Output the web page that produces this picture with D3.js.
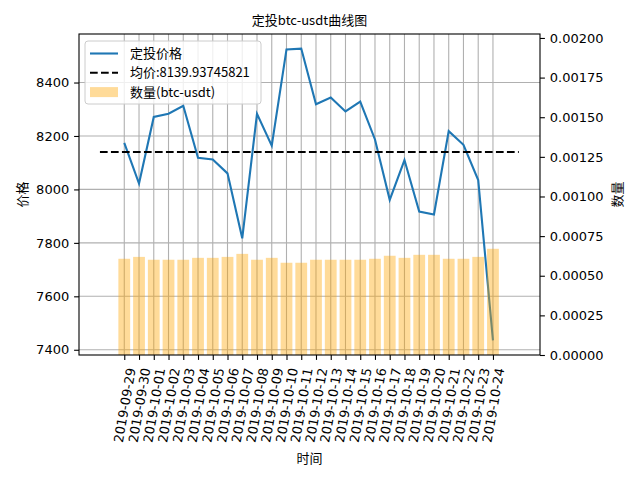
<!DOCTYPE html>
<html>
<head>
<meta charset="utf-8">
<script src="https://cdn.jsdelivr.net/npm/d3@7"></script>
<style>
body { margin: 0; background: #fff; }
text { fill: #000; }
.tick text { font-family: "DejaVu Sans", sans-serif; font-size: 13px; }
.cjk { font-family: "Noto Sans CJK SC", sans-serif; }
</style>
</head>
<body>
<svg width="640" height="480"></svg>
<script>
var dates = ["2019-09-29", "2019-09-30", "2019-10-01", "2019-10-02", "2019-10-03", "2019-10-04",
    "2019-10-05", "2019-10-06", "2019-10-07", "2019-10-08", "2019-10-09", "2019-10-10",
    "2019-10-11", "2019-10-12", "2019-10-13", "2019-10-14", "2019-10-15", "2019-10-16",
    "2019-10-17", "2019-10-18", "2019-10-19", "2019-10-20", "2019-10-21", "2019-10-22",
    "2019-10-23", "2019-10-24"];

var prices = [8174, 8022, 8271, 8283, 8313, 8118, 8112, 8060, 7817, 8283, 8164, 8524, 8527,
    8319, 8344, 8292, 8329, 8187, 7961, 8110, 7917, 7906, 8218, 8167, 8035, 7435];

var amounts = [0.000607, 0.000619, 0.000601, 0.000601, 0.000601, 0.000613, 0.000613, 0.000619,
    0.000638, 0.000601, 0.000613, 0.000582, 0.000582, 0.000601, 0.000601, 0.000601, 0.000601,
    0.000607, 0.000626, 0.000613, 0.000632, 0.000632, 0.000607, 0.000607, 0.000619, 0.000670];

var avgPrice = 8139.93745821;
var avgSpan = [-1.65, 26.75];      // x extent of the mean line, in date index units
var xLimits = [-3.07, 28.19];
var priceTicks = [7400, 7600, 7800, 8000, 8200, 8400];
var amountTicks = [0, 0.00025, 0.0005, 0.00075, 0.001, 0.00125, 0.0015, 0.00175, 0.002];
var amountMax = 0.002025;

var margin = {top: 34, right: 100, bottom: 125, left: 79};
var width = 640 - margin.left - margin.right;
var height = 480 - margin.top - margin.bottom;

var svg = d3.select("svg");
var g = svg.append("g").attr("transform", "translate(" + margin.left + "," + margin.top + ")");

var xScale = d3.scaleLinear().domain(xLimits).range([0, width]);

var pMin = d3.min(prices), pMax = d3.max(prices), pPad = (pMax - pMin) * 0.05;
var yScale = d3.scaleLinear().domain([pMin - pPad, pMax + pPad]).range([height, 0]);
var y2Scale = d3.scaleLinear().domain([0, amountMax]).range([height, 0]);

var idx = d3.range(dates.length);

// grid
g.append("g").selectAll("line").data(idx).enter().append("line")
    .attr("x1", function(d) { return xScale(d); })
    .attr("x2", function(d) { return xScale(d); })
    .attr("y1", 0).attr("y2", height)
    .attr("stroke", "#b0b0b0").attr("stroke-width", 1.1);
g.append("g").selectAll("line").data(priceTicks).enter().append("line")
    .attr("x1", 0).attr("x2", width)
    .attr("y1", function(d) { return yScale(d); })
    .attr("y2", function(d) { return yScale(d); })
    .attr("stroke", "#b0b0b0").attr("stroke-width", 1.1);

// price line
var line = d3.line()
    .x(function(d, i) { return xScale(i); })
    .y(function(d) { return yScale(d); });
g.append("path").datum(prices)
    .attr("d", line)
    .attr("fill", "none")
    .attr("stroke", "#1f77b4")
    .attr("stroke-width", 2.1);

// mean line
g.append("line")
    .attr("x1", xScale(avgSpan[0])).attr("x2", xScale(avgSpan[1]))
    .attr("y1", yScale(avgPrice)).attr("y2", yScale(avgPrice))
    .attr("stroke", "#000").attr("stroke-width", 2.1)
    .attr("stroke-dasharray", "7.7,3.3");

// bars on twin axis
var bw = (xScale(1) - xScale(0)) * 0.8;
g.append("g").selectAll("rect").data(amounts).enter().append("rect")
    .attr("x", function(d, i) { return xScale(i) - bw / 2; })
    .attr("width", bw)
    .attr("y", function(d) { return y2Scale(d); })
    .attr("height", function(d) { return height - y2Scale(d); })
    .attr("fill", "orange")
    .attr("fill-opacity", 0.4);

// axes
var xAxis = d3.axisBottom(xScale).tickValues(idx).tickFormat(function(d) { return dates[d]; })
    .tickSizeOuter(0).tickSize(4.9).tickPadding(4.9);
var gx = g.append("g").attr("transform", "translate(0," + height + ")").call(xAxis);

var yAxis = d3.axisLeft(yScale).tickValues(priceTicks).tickFormat(d3.format("d"))
    .tickSizeOuter(0).tickSize(4.9).tickPadding(4.9);
g.append("g").call(yAxis);

var y2Axis = d3.axisRight(y2Scale).tickValues(amountTicks).tickFormat(d3.format(".5f"))
    .tickSizeOuter(0).tickSize(4.9).tickPadding(4.9);
g.append("g").attr("transform", "translate(" + width + ",0)").call(y2Axis);

g.selectAll(".domain").remove();
g.selectAll(".tick line").attr("stroke-width", 1.1);

// frame
g.append("rect").attr("width", width).attr("height", height)
    .attr("fill", "none").attr("stroke", "#000").attr("stroke-width", 1.1);

// x tick labels rotated 80 degrees, centred under the tick
gx.selectAll(".tick text")
    .attr("text-anchor", "end")
    .attr("dy", "0.35em")
    .attr("y", null).attr("x", null)
    .attr("transform", "translate(6.5,13) rotate(-80)");

// titles
svg.append("text").attr("class", "cjk")
    .attr("x", margin.left + width / 2).attr("y", 25)
    .attr("text-anchor", "middle").style("font-size", "13px")
    .text("定投btc-usdt曲线图");
svg.append("text").attr("class", "cjk")
    .attr("x", margin.left + width / 2).attr("y", 463)
    .attr("text-anchor", "middle").style("font-size", "13px")
    .text("时间");
svg.append("text").attr("class", "cjk")
    .attr("transform", "translate(27," + (margin.top + height / 2) + ") rotate(-90)")
    .attr("text-anchor", "middle").style("font-size", "13px")
    .text("价格");
svg.append("text").attr("class", "cjk")
    .attr("transform", "translate(622," + (margin.top + height / 2) + ") rotate(-90)")
    .attr("text-anchor", "middle").style("font-size", "13px")
    .text("数量");

// legend
var legend = g.append("g").attr("transform", "translate(6,7)");
legend.append("rect").attr("width", 176).attr("height", 63).attr("rx", 3)
    .attr("fill", "#fff").attr("fill-opacity", 0.8)
    .attr("stroke", "#ccc").attr("stroke-width", 1);
var items = [
    {label: "定投价格", kind: "line"},
    {label: "均价:" + avgPrice, kind: "dash"},
    {label: "数量(btc-usdt)", kind: "bar"}
];
var rows = legend.selectAll(".item").data(items).enter().append("g")
    .attr("transform", function(d, i) { return "translate(0," + (12.5 + i * 19.3) + ")"; });
rows.filter(function(d) { return d.kind !== "bar"; }).append("line")
    .attr("x1", 5).attr("x2", 33).attr("y1", 0).attr("y2", 0)
    .attr("stroke", function(d) { return d.kind === "line" ? "#1f77b4" : "#000"; })
    .attr("stroke-width", 2.1)
    .attr("stroke-dasharray", function(d) { return d.kind === "dash" ? "7.7,3.3" : null; });
rows.filter(function(d) { return d.kind === "bar"; }).append("rect")
    .attr("x", 5).attr("y", -5).attr("width", 28).attr("height", 10)
    .attr("fill", "orange").attr("fill-opacity", 0.4);
rows.append("text").attr("class", "cjk")
    .attr("x", 45).attr("dy", "0.35em").style("font-size", "13px")
    .text(function(d) { return d.label; });
</script>
</body>
</html>
